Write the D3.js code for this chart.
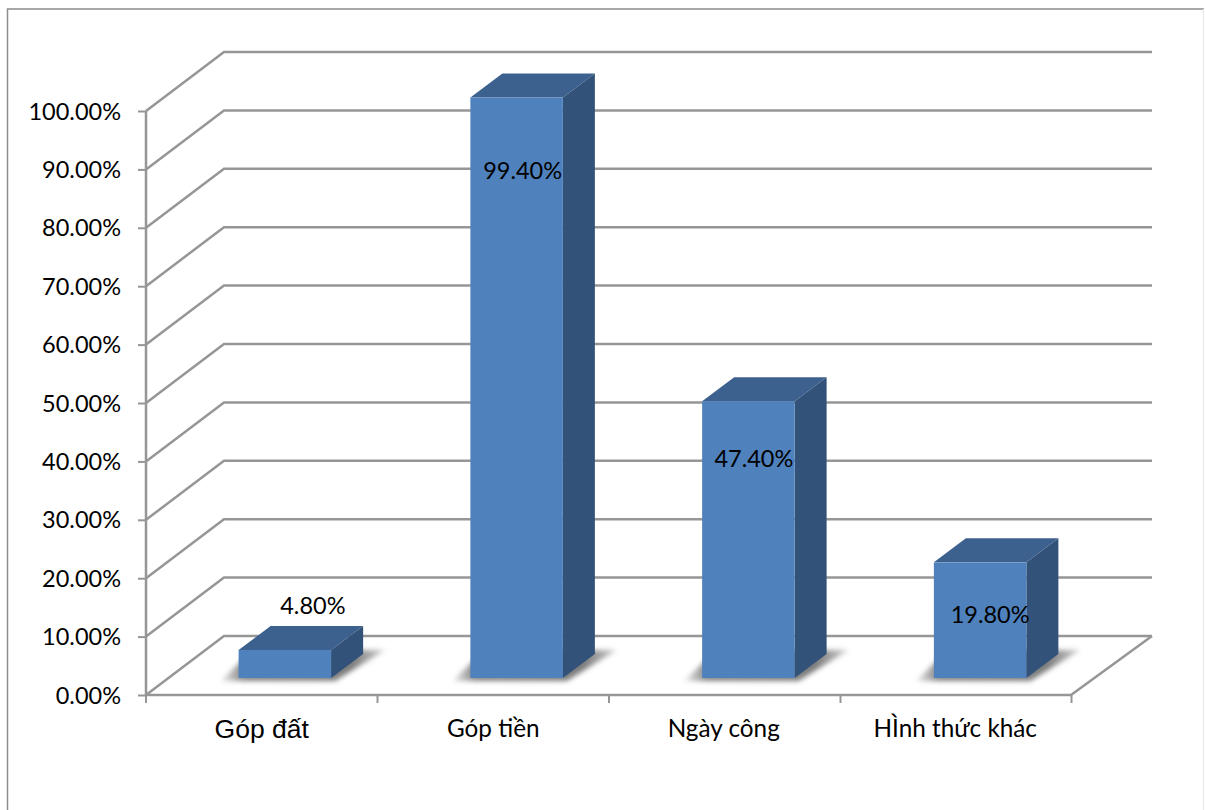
<!DOCTYPE html>
<html>
<head>
<meta charset="utf-8">
<script src="https://cdn.jsdelivr.net/npm/d3@7/dist/d3.min.js"></script>
<style>
html,body{margin:0;padding:0;background:#fff;overflow:hidden}
svg{display:block}
text{font-family:"Lato",sans-serif;fill:#000}
</style>
</head>
<body>
<svg id="chart" width="1205" height="810"></svg>
<script>
// Contribution forms and their shares, in percent
const categories = ["Góp đất", "Góp tiền", "Ngày công", "HÌnh thức khác"];
const shares = [4.8, 99.4, 47.4, 19.8];
const shareLabels = ["4.80%", "99.40%", "47.40%", "19.80%"];
const tickValues = [0, 10, 20, 30, 40, 50, 60, 70, 80, 90, 100];

const svg = d3.select("#chart");
const grey = "#969696";
const wallDepth = {dx: 78, dy: -59};     // front of the floor to the back wall
const barInset = {dx: 23, dy: -17};      // front of the floor to the bars' front faces
const barDepth = {dx: 32, dy: -24};      // depth of each bar
const barWidth = 92.5;

const y = d3.scaleLinear().domain([0, 100]).range([695, 111]);
const xFloor = d3.scaleBand().domain(categories).range([146, 1072]);
const xBars = d3.scaleBand().domain(categories).range([146, 1073]);
const path = d3.line();

const defs = svg.append("defs");
defs.append("filter").attr("id", "soft").attr("x", "-30%").attr("y", "-60%").attr("width", "160%").attr("height", "220%")
  .append("feGaussianBlur").attr("stdDeviation", 2.5);
const fade = defs.append("linearGradient").attr("id", "shadowFade");
[[0, 0.12], [0.14, 0.8], [0.8, 0.85], [1, 0.3]].forEach(([o, a]) =>
  fade.append("stop").attr("offset", o).attr("stop-color", "#666666").attr("stop-opacity", a));

// Outer chart frame: dark left and top edges, a faint right edge
svg.append("path")
  .attr("d", path([[7.5, 810], [7.5, 9], [1204, 9]]))
  .attr("fill", "none").attr("stroke", "#8c8c8c").attr("stroke-width", 1.5);
svg.append("line").attr("x1", 1203.5).attr("x2", 1203.5).attr("y1", 9).attr("y2", 810)
  .attr("stroke", "#ececec").attr("stroke-width", 1.5);

// Floor edges, side wall and back wall gridlines
const frame = svg.append("g").attr("fill", "none").attr("stroke", grey).attr("stroke-width", 2.5);
tickValues.forEach(v => {
  frame.append("path").attr("d", path([
    [146, y(v)],
    [146 + wallDepth.dx, y(v) + wallDepth.dy],
    [1152, y(v) + wallDepth.dy]
  ]));
});
frame.append("path").attr("d", path([[146, y(100)], [146, y(0)], [1071, y(0)], [1152, y(0) + wallDepth.dy]]));

// Axis ticks
const yAxis = d3.axisLeft(y).tickValues(tickValues).tickSize(8).tickPadding(17).tickFormat(d => d3.format(".2f")(d) + "%");
const yAxisG = svg.append("g").attr("transform", "translate(146,0)").call(yAxis);
yAxisG.select(".domain").remove();
yAxisG.selectAll("line").attr("stroke", grey).attr("stroke-width", 2);
yAxisG.selectAll("text").style("font-family", '"Lato",sans-serif').style("font-size", "23.5px").attr("dy", "0.34em");

const xTicks = svg.append("g").attr("stroke", grey).attr("stroke-width", 2);
categories.forEach(c => {
  const t = xFloor(c);
  xTicks.append("line").attr("x1", t).attr("x2", t).attr("y1", y(0)).attr("y2", y(0) + 8);
});
xTicks.append("line").attr("x1", 1071.5).attr("x2", 1071.5).attr("y1", y(0)).attr("y2", y(0) + 8);

// Category labels; the first one is set in a different face
const categoryNudge = [0, 0, -1, -1];
svg.append("g").selectAll("text").data(categories).join("text")
  .attr("x", (d, i) => xFloor(d) + xFloor.bandwidth() / 2 + categoryNudge[i])
  .attr("y", (d, i) => i === 0 ? 738 : 737)
  .attr("text-anchor", "middle")
  .style("font-family", (d, i) => i === 0 ? '"Liberation Sans",sans-serif' : '"Lato",sans-serif')
  .style("font-size", (d, i) => i === 0 ? "26.5px" : "24.3px")
  .text(d => d);

// Bars: soft floor shadow, then top, side and front faces
const bars = svg.append("g").selectAll("g").data(categories).join("g");
const barLeft = c => xBars(c) + xBars.bandwidth() / 2 + barInset.dx - barWidth / 2;
const barRight = c => barLeft(c) + barWidth;
const base = y(0) + barInset.dy;
const topOf = i => y(shares[i]) + barInset.dy;

bars.append("path")
  .attr("d", d => path([
    [barLeft(d) - 18, base + 3], [barRight(d) + 4, base + 3],
    [barRight(d) + 54, base - 28], [barLeft(d) + 14, base - 28]
  ]) + "Z")
  .attr("fill", "url(#shadowFade)").attr("filter", "url(#soft)");

bars.append("path")
  .attr("d", (d, i) => path([
    [barLeft(d), topOf(i)], [barRight(d), topOf(i)],
    [barRight(d) + barDepth.dx, topOf(i) + barDepth.dy], [barLeft(d) + barDepth.dx, topOf(i) + barDepth.dy]
  ]) + "Z")
  .attr("fill", "#3d618f");

bars.append("path")
  .attr("d", (d, i) => path([
    [barRight(d), topOf(i)], [barRight(d) + barDepth.dx, topOf(i) + barDepth.dy],
    [barRight(d) + barDepth.dx, base + barDepth.dy], [barRight(d), base]
  ]) + "Z")
  .attr("fill", "#325279");

bars.append("rect")
  .attr("x", barLeft).attr("width", barWidth)
  .attr("y", (d, i) => topOf(i)).attr("height", (d, i) => base - topOf(i))
  .attr("fill", "#4f81bd");

// Value labels sit at staggered spots over their bars
const labelDx = [28, 6, 5.5, 10];
const labelDy = [-36, 81, 66, 61];
bars.append("text")
  .attr("x", (d, i) => barLeft(d) + barWidth / 2 + labelDx[i])
  .attr("y", (d, i) => topOf(i) + labelDy[i])
  .attr("text-anchor", "middle")
  .style("font-family", '"Lato",sans-serif')
  .style("font-size", "23.5px")
  .text((d, i) => shareLabels[i]);
</script>
</body>
</html>
